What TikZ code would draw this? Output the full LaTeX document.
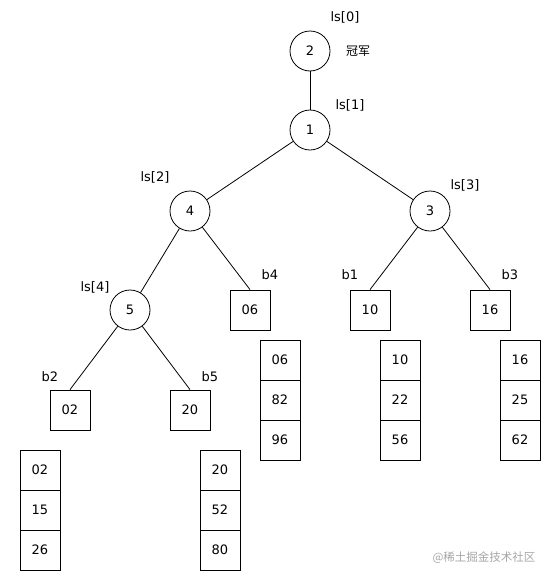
\documentclass[tikz,border=0pt]{standalone}
\usepackage{fontspec}
\setmainfont{DejaVu Sans}
\newfontfamily\cjk{Noto Sans CJK SC}
\begin{document}
\begin{tikzpicture}[x=1pt,y=-1pt,
  every node/.style={font=\fontsize{13}{15}\selectfont},
  tnode/.style={draw,circle,minimum size=40pt,inner sep=0pt,line width=0.8pt},
  cell/.style={draw,rectangle,minimum size=40pt,inner sep=0pt,line width=0.8pt},
  lab/.style={inner sep=1pt},
  edge/.style={line width=0.8pt}]
\useasboundingbox (0,0) rectangle (551,581);
% tree nodes
\node[tnode] (n2) at (310,51) {2};
\node[tnode] (n1) at (310,130) {1};
\node[tnode] (n4) at (190,211) {4};
\node[tnode] (n3) at (430,211) {3};
\node[tnode] (n5) at (130,310) {5};
% leaf boxes
\node[cell] (b4) at (250,310) {06};
\node[cell] (b1) at (370,310) {10};
\node[cell] (b3) at (490,310) {16};
\node[cell] (b2) at (70,410) {02};
\node[cell] (b5) at (190,410) {20};
% labels
\node[lab] (l0) at (345,17) {ls[0]};
\node[lab] (champ) at (358,51) {\cjk\fontsize{12}{14}\selectfont 冠军};
\node[lab] (l1) at (350,105) {ls[1]};
\node[lab] (l2) at (155,177) {ls[2]};
\node[lab] (l3) at (465,185) {ls[3]};
\node[lab] (l4) at (95,287) {ls[4]};
\node[lab] (lb4) at (270,275) {b4};
\node[lab] (lb1) at (350,275) {b1};
\node[lab] (lb3) at (510,275) {b3};
\node[lab] (lb2) at (50,377) {b2};
\node[lab] (lb5) at (210,377) {b5};
% edges
\draw[edge] (n2) -- (n1);
\draw[edge] (n1) -- (n4);
\draw[edge] (n1) -- (n3);
\draw[edge] (n4) -- (n5);
\draw[edge] (n4) -- (b4.north);
\draw[edge] (n3) -- (b1.north);
\draw[edge] (n3) -- (b3.north);
\draw[edge] (n5) -- (b2.north);
\draw[edge] (n5) -- (b5.north);
% stacks
\node[cell] (sa1) at (40,470) {02};
\node[cell] (sa2) at (40,510) {15};
\node[cell] (sa3) at (40,550) {26};
\node[cell] (sb1) at (220,470) {20};
\node[cell] (sb2) at (220,510) {52};
\node[cell] (sb3) at (220,550) {80};
\node[cell] (sc1) at (280,360) {06};
\node[cell] (sc2) at (280,400) {82};
\node[cell] (sc3) at (280,440) {96};
\node[cell] (sd1) at (400,360) {10};
\node[cell] (sd2) at (400,400) {22};
\node[cell] (sd3) at (400,440) {56};
\node[cell] (se1) at (520,360) {16};
\node[cell] (se2) at (520,400) {25};
\node[cell] (se3) at (520,440) {62};
% watermark
\node[text=black!35] (wm) at (484,558) {\cjk\fontsize{11.5}{13}\selectfont @稀土掘金技术社区};
\end{tikzpicture}
\end{document}
